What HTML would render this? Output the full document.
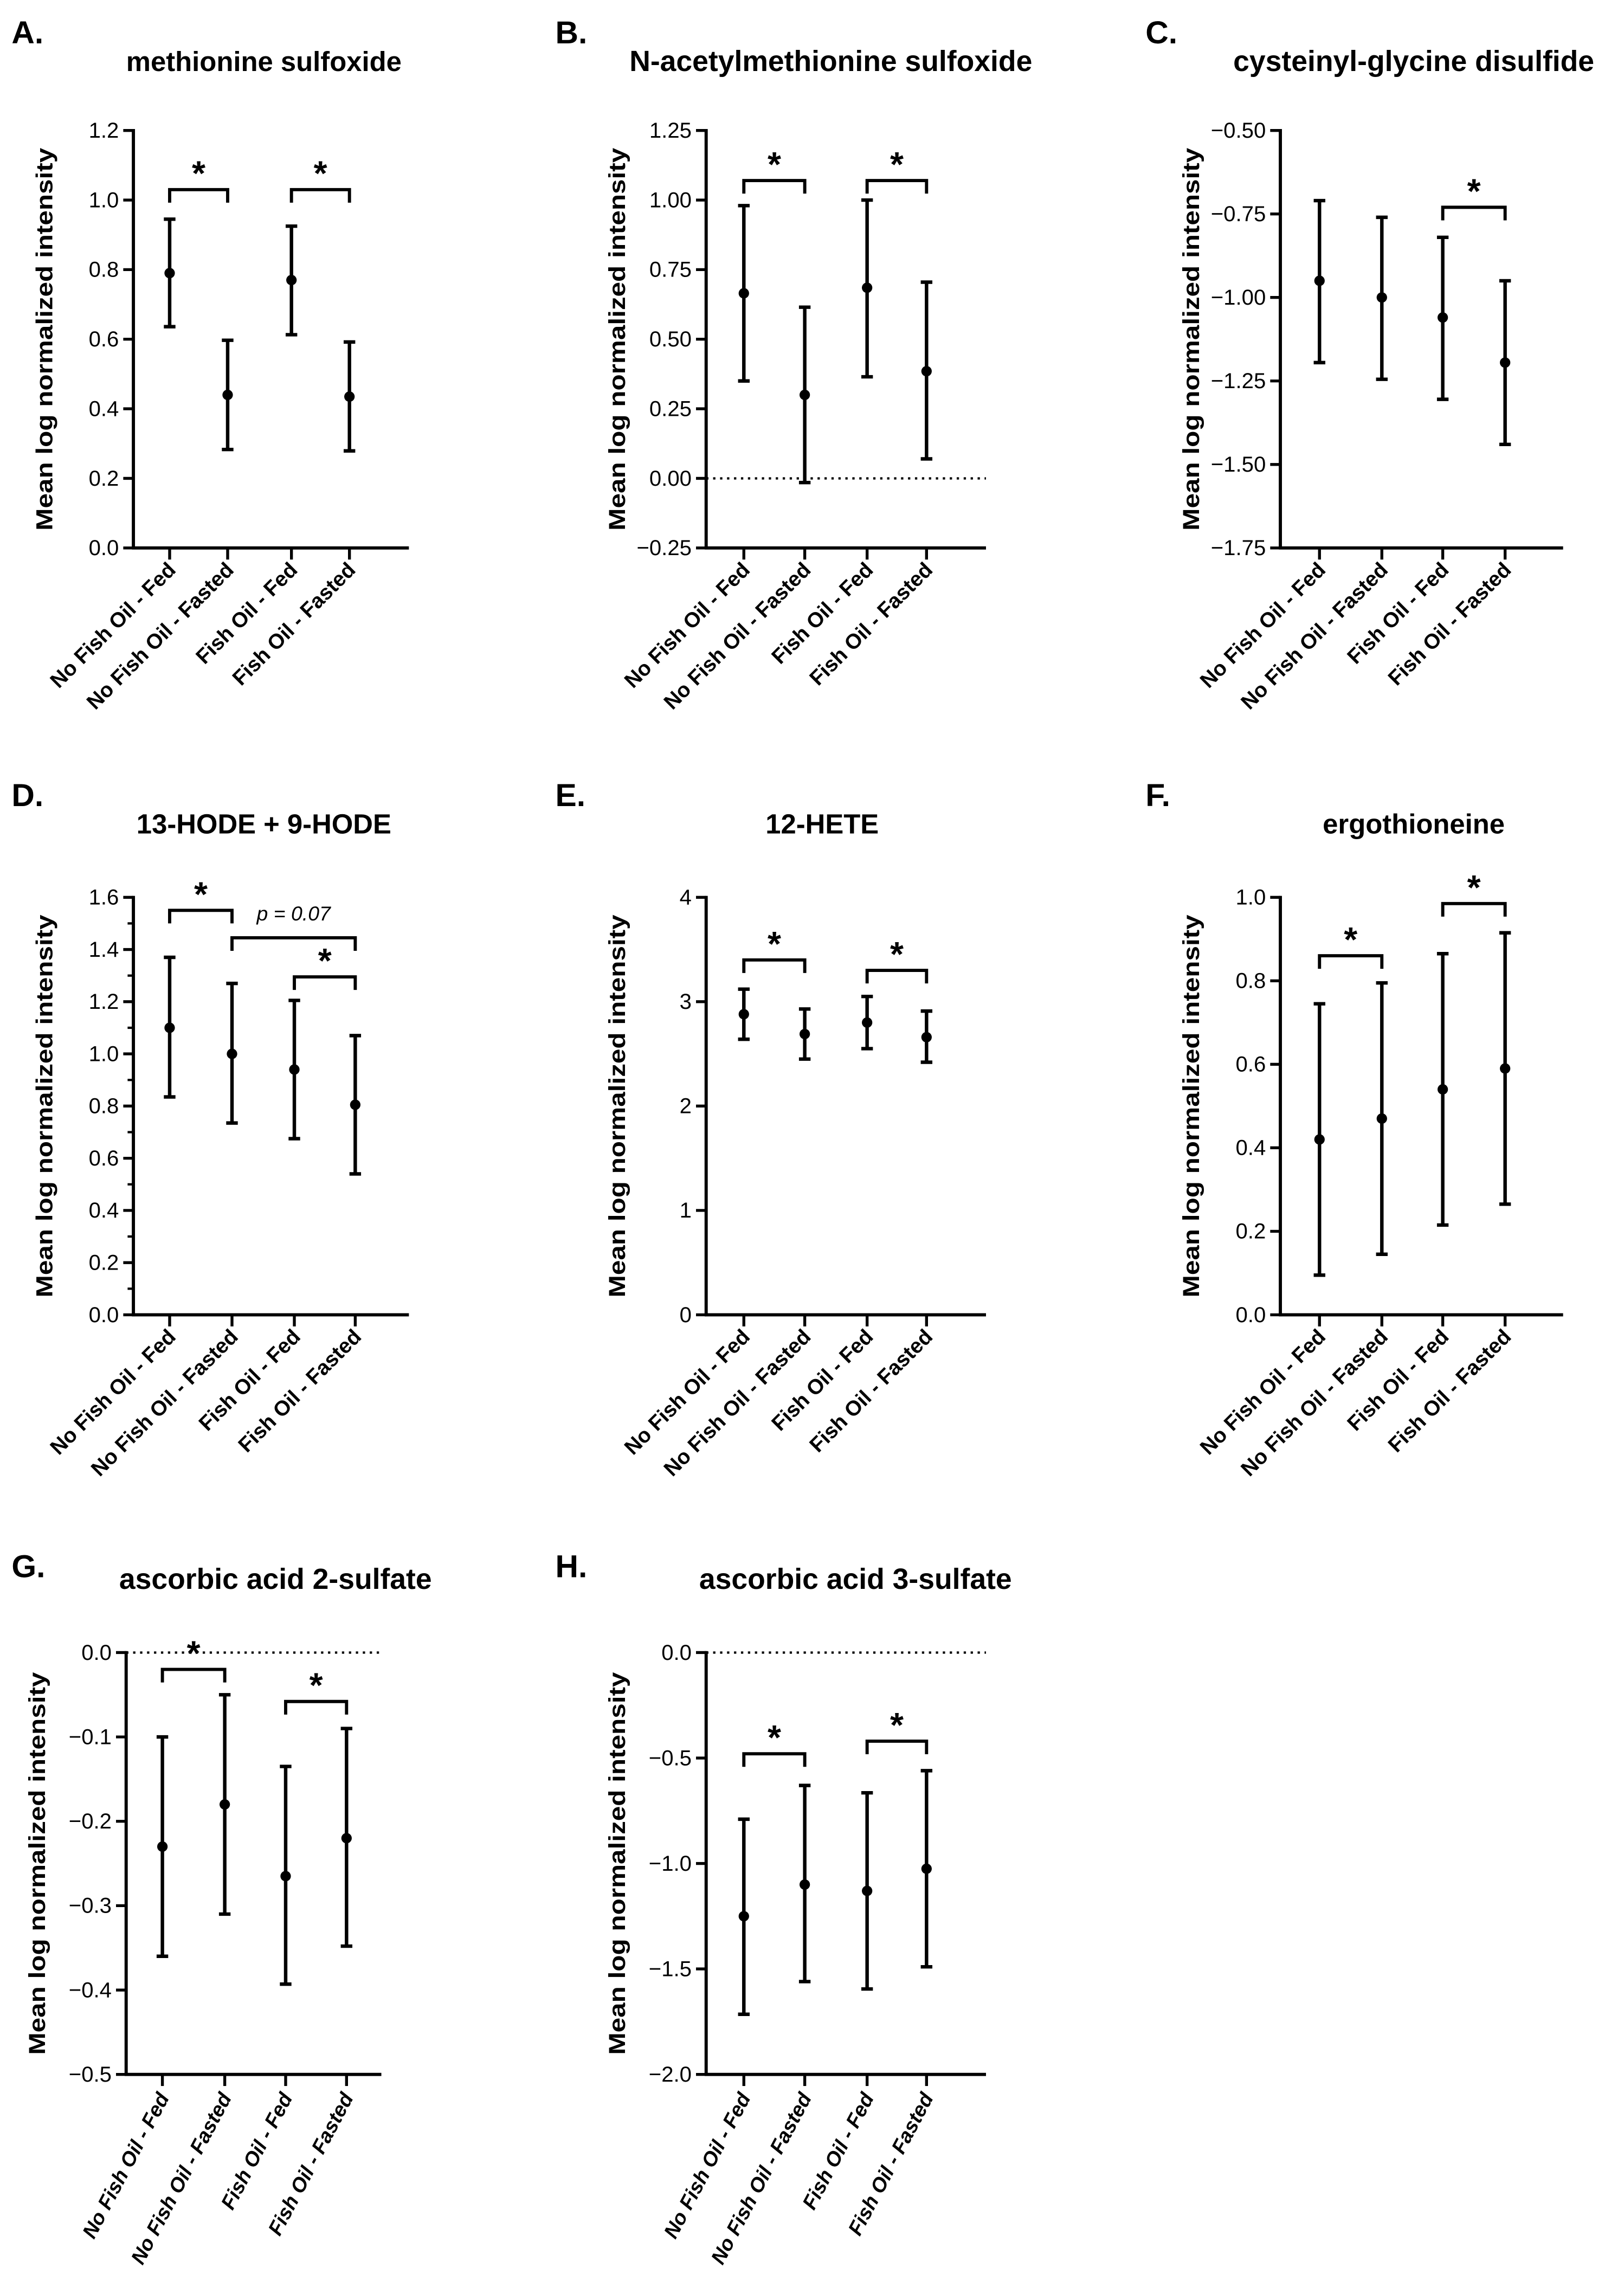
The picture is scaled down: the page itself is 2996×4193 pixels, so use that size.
<!DOCTYPE html>
<html><head><meta charset="utf-8"><style>
html,body{margin:0;padding:0;background:#fff;}
svg{display:block;}
text{font-family:"Liberation Sans",sans-serif;fill:#000;}
</style></head><body>
<svg id="fig" width="2996" height="4193" viewBox="0 0 1120 1568" preserveAspectRatio="none" xmlns="http://www.w3.org/2000/svg"></svg>
<script>
const categories = ["No Fish Oil - Fed","No Fish Oil - Fasted","Fish Oil - Fed","Fish Oil - Fasted"];

const aMean=[0.79,0.44,0.77,0.435], aUp=[0.945,0.597,0.925,0.592], aLo=[0.636,0.283,0.613,0.279];
const aTicks=[0,0.2,0.4,0.6,0.8,1.0,1.2], aTickLabels=["0.0","0.2","0.4","0.6","0.8","1.0","1.2"];
const aBrackets=[[0,1,1.03,"*"],[2,3,1.03,"*"]];

const bMean=[0.665,0.30,0.685,0.385], bUp=[0.98,0.615,1.0,0.705], bLo=[0.35,-0.015,0.365,0.07];
const bTicks=[-0.25,0,0.25,0.5,0.75,1.0,1.25], bTickLabels=["-0.25","0.00","0.25","0.50","0.75","1.00","1.25"];
const bBrackets=[[0,1,1.07,"*"],[2,3,1.07,"*"]];

const cMean=[-0.95,-1.0,-1.06,-1.195], cUp=[-0.71,-0.76,-0.82,-0.95], cLo=[-1.195,-1.245,-1.305,-1.44];
const cTicks=[-1.75,-1.5,-1.25,-1.0,-0.75,-0.5], cTickLabels=["-1.75","-1.50","-1.25","-1.00","-0.75","-0.50"];
const cBrackets=[[2,3,-0.73,"*"]];

const dMean=[1.10,1.0,0.94,0.805], dUp=[1.37,1.27,1.205,1.07], dLo=[0.835,0.735,0.675,0.54];
const dTicks=[0,0.2,0.4,0.6,0.8,1.0,1.2,1.4,1.6], dTickLabels=["0.0","0.2","0.4","0.6","0.8","1.0","1.2","1.4","1.6"];
const dBrackets=[[0,1,1.55,"*"],[1,3,1.445,"p = 0.07"],[2,3,1.295,"*"]];

const eMean=[2.88,2.69,2.80,2.66], eUp=[3.12,2.93,3.05,2.91], eLo=[2.64,2.45,2.55,2.42];
const eTicks=[0,1,2,3,4], eTickLabels=["0","1","2","3","4"];
const eBrackets=[[0,1,3.4,"*"],[2,3,3.3,"*"]];

const fMean=[0.42,0.47,0.54,0.59], fUp=[0.745,0.795,0.865,0.915], fLo=[0.095,0.145,0.215,0.265];
const fTicks=[0,0.2,0.4,0.6,0.8,1.0], fTickLabels=["0.0","0.2","0.4","0.6","0.8","1.0"];
const fBrackets=[[0,1,0.86,"*"],[2,3,0.985,"*"]];

const gMean=[-0.23,-0.18,-0.265,-0.22], gUp=[-0.10,-0.05,-0.135,-0.09], gLo=[-0.36,-0.31,-0.393,-0.348];
const gTicks=[-0.5,-0.4,-0.3,-0.2,-0.1,0], gTickLabels=["-0.5","-0.4","-0.3","-0.2","-0.1","0.0"];
const gBrackets=[[0,1,-0.02,"*"],[2,3,-0.058,"*"]];

const hMean=[-1.25,-1.10,-1.13,-1.025], hUp=[-0.79,-0.63,-0.665,-0.56], hLo=[-1.715,-1.56,-1.595,-1.49];
const hTicks=[-2,-1.5,-1,-0.5,0], hTickLabels=["-2.0","-1.5","-1.0","-0.5","0.0"];
const hBrackets=[[0,1,-0.48,"*"],[2,3,-0.42,"*"]];

const NS="http://www.w3.org/2000/svg";
const svg=document.getElementById('fig');
function el(tag,attrs,parent,txt){const e=document.createElementNS(NS,tag);for(const k in attrs)e.setAttribute(k,attrs[k]);if(txt!==undefined)e.textContent=txt;(parent||svg).appendChild(e);return e;}

function panel(o){
  const g=el('g',{});
  
  
  const y=v=>o.yBot-(v-o.min)/(o.max-o.min)*(o.yBot-o.yTop);
  const cx=o.cx;
  const narrow=o.narrow;
  const lt=el('text',{x:o.letterX,y:o.letterY,'font-size':22,'font-weight':'bold'},g,o.id+'.');
  
  
  const tt=el('text',{x:o.titleX,y:o.titleY,'font-size':o.titleSize,'font-weight':'bold','text-anchor':'middle'},g,o.title);
  
  
  const ymid=(o.yTop+o.yBot)/2;
  const yl=el('text',{x:0,y:0,'font-size':16,'font-weight':'bold','text-anchor':'middle',transform:`translate(${o.ax-56},${ymid}) rotate(-90)`,textLength:264,lengthAdjust:'spacingAndGlyphs'},g,'Mean log normalized intensity');
  
  
  el('line',{x1:o.ax,y1:o.yTop-1,x2:o.ax,y2:o.yBot+1,stroke:'#000','stroke-width':2.2},g);
  el('line',{x1:o.ax-1,y1:o.yBot,x2:o.xEnd,y2:o.yBot,stroke:'#000','stroke-width':2.2},g);
  o.ticks.forEach((t,i)=>{
    el('line',{x1:o.ax-7,y1:y(t),x2:o.ax,y2:y(t),stroke:'#000','stroke-width':2},g);
    const tl=el('text',{x:o.ax-10,y:y(t)+5,'font-size':15,'text-anchor':'end'},g,o.tickLabels[i].replace('-','\u2212'));
    
    
  });
  if(o.minor){for(let v=o.min;v<=o.max+1e-9;v+=o.minor){el('line',{x1:o.ax-4,y1:y(v),x2:o.ax,y2:y(v),stroke:'#000','stroke-width':1.6},g);}}
  if(o.zeroLine){el('line',{x1:o.ax,y1:y(0),x2:o.xEnd,y2:y(0),stroke:'#000','stroke-width':1.6,'stroke-dasharray':'1.6 3.2'},g);}
  categories.forEach((c,i)=>{
    el('line',{x1:cx[i],y1:o.yBot,x2:cx[i],y2:o.yBot+8,stroke:'#000','stroke-width':2},g);
    const xl=el('text',{x:0,y:0,'font-size':o.italic?14:14.5,'font-weight':'bold','font-style':o.italic?'italic':'normal','text-anchor':'end',transform:`translate(${cx[i]+5},${o.yBot+16}) rotate(${o.angle})`},g,c);
    
    
    const eb=el('g',{},g);
    
    
    el('line',{x1:cx[i],y1:y(o.up[i]),x2:cx[i],y2:y(o.lo[i]),stroke:'#000','stroke-width':2.4},eb);
    el('line',{x1:cx[i]-4,y1:y(o.up[i]),x2:cx[i]+4,y2:y(o.up[i]),stroke:'#000','stroke-width':2.4},eb);
    el('line',{x1:cx[i]-4,y1:y(o.lo[i]),x2:cx[i]+4,y2:y(o.lo[i]),stroke:'#000','stroke-width':2.4},eb);
    const pt=el('circle',{cx:cx[i],cy:y(o.mean[i]),r:3.6,fill:'#000'},g);
    
    
  });
  o.brackets.forEach(b=>{
    const x1=cx[b[0]],x2=cx[b[1]],yy=y(b[2]);
    const br=el('path',{d:`M${x1},${yy+9}V${yy}H${x2}V${yy+9}`,fill:'none',stroke:'#000','stroke-width':2.2},g);
    
    
    const isStar=b[3]==='*';
    const st=el('text',{x:(x1+x2)/2,y:isStar?yy-3:yy-12,'font-size':isStar?24:14,'font-weight':isStar?'bold':'normal','font-style':isStar?'normal':'italic','text-anchor':'middle'},g,b[3]);
    
    
  });
}

const c1=[117,157,201,241], c2=[513,555,598,639], c3=[910,953,995,1038];
panel({id:'A',title:'methionine sulfoxide',titleSize:19,letterX:8,letterY:30,titleX:182,titleY:49,ax:92,yTop:90,yBot:378,xEnd:282,min:0,max:1.2,ticks:aTicks,tickLabels:aTickLabels,mean:aMean,up:aUp,lo:aLo,brackets:aBrackets,cx:c1,angle:-45});
panel({id:'B',title:'N-acetylmethionine sulfoxide',titleSize:20,letterX:383,letterY:30,titleX:573,titleY:49,ax:487,yTop:90,yBot:378,xEnd:680,min:-0.25,max:1.25,ticks:bTicks,tickLabels:bTickLabels,mean:bMean,up:bUp,lo:bLo,brackets:bBrackets,cx:c2,angle:-45,zeroLine:true});
panel({id:'C',title:'cysteinyl-glycine disulfide',titleSize:20,letterX:790,letterY:30,titleX:975,titleY:49,ax:883,yTop:90,yBot:378,xEnd:1078,min:-1.75,max:-0.5,ticks:cTicks,tickLabels:cTickLabels,mean:cMean,up:cUp,lo:cLo,brackets:cBrackets,cx:c3,angle:-45});
panel({id:'D',title:'13-HODE + 9-HODE',titleSize:19,letterX:8,letterY:556,titleX:182,titleY:575,ax:92,yTop:619,yBot:907,xEnd:282,min:0,max:1.6,ticks:dTicks,tickLabels:dTickLabels,mean:dMean,up:dUp,lo:dLo,brackets:dBrackets,cx:[117,160,203,245],angle:-45,minor:0.1});
panel({id:'E',title:'12-HETE',titleSize:19,letterX:383,letterY:556,titleX:567,titleY:575,ax:487,yTop:619,yBot:907,xEnd:680,min:0,max:4,ticks:eTicks,tickLabels:eTickLabels,mean:eMean,up:eUp,lo:eLo,brackets:eBrackets,cx:c2,angle:-45});
panel({id:'F',title:'ergothioneine',titleSize:19,letterX:790,letterY:556,titleX:975,titleY:575,ax:883,yTop:619,yBot:907,xEnd:1078,min:0,max:1.0,ticks:fTicks,tickLabels:fTickLabels,mean:fMean,up:fUp,lo:fLo,brackets:fBrackets,cx:c3,angle:-45});
panel({id:'G',title:'ascorbic acid 2-sulfate',titleSize:20,letterX:8,letterY:1088,titleX:190,titleY:1096,ax:87,yTop:1140,yBot:1431,xEnd:263,min:-0.5,max:0,ticks:gTicks,tickLabels:gTickLabels,mean:gMean,up:gUp,lo:gLo,brackets:gBrackets,cx:[112,155,197,239],angle:-62,zeroLine:true,italic:true});
panel({id:'H',title:'ascorbic acid 3-sulfate',titleSize:20,letterX:383,letterY:1088,titleX:590,titleY:1096,ax:487,yTop:1140,yBot:1431,xEnd:680,min:-2,max:0,ticks:hTicks,tickLabels:hTickLabels,mean:hMean,up:hUp,lo:hLo,brackets:hBrackets,cx:c2,angle:-62,zeroLine:true,italic:true});
</script>
</body></html>
